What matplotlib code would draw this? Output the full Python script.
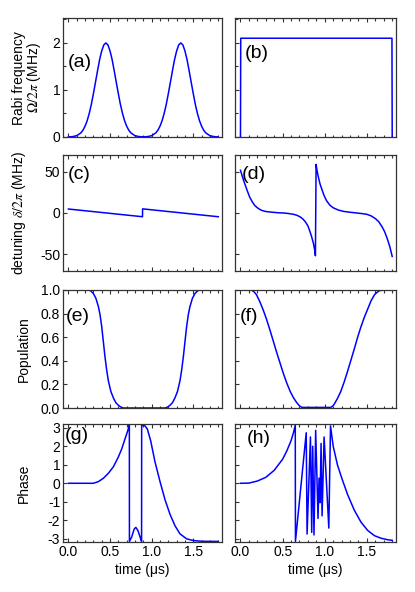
import matplotlib
matplotlib.use("Agg")
import matplotlib.pyplot as plt
from matplotlib.ticker import MultipleLocator

plt.rcParams['font.family'] = ['Liberation Sans', 'DejaVu Sans']
plt.rcParams['mathtext.fontset'] = 'stix'
plt.rcParams['axes.unicode_minus'] = False

# ---------------- data ----------------
# (a) two Gaussian pulses
t_a = [0.0, 0.05, 0.1, 0.15, 0.175, 0.2, 0.225, 0.25, 0.275, 0.3, 0.325, 0.35, 0.375, 0.4, 0.425,
       0.45, 0.475, 0.5, 0.525, 0.55, 0.575, 0.6, 0.625, 0.65, 0.675, 0.7, 0.725, 0.75, 0.8, 0.85,
       0.9, 0.95, 1.0, 1.05, 1.075, 1.1, 1.125, 1.15, 1.175, 1.2, 1.225, 1.25, 1.275, 1.3, 1.325,
       1.35, 1.375, 1.4, 1.425, 1.45, 1.475, 1.5, 1.525, 1.55, 1.575, 1.6, 1.625, 1.65, 1.7, 1.75, 1.8]
om_a = [0.002, 0.008, 0.028, 0.088, 0.145, 0.23, 0.345, 0.50, 0.69, 0.92, 1.163, 1.41, 1.646, 1.83, 1.957,
        2.0, 1.957, 1.83, 1.646, 1.41, 1.163, 0.92, 0.69, 0.50, 0.345, 0.23, 0.145, 0.088, 0.028, 0.008,
        0.004, 0.008, 0.028, 0.088, 0.145, 0.23, 0.345, 0.50, 0.69, 0.92, 1.163, 1.41, 1.646, 1.83, 1.957,
        2.0, 1.957, 1.83, 1.646, 1.41, 1.163, 0.92, 0.69, 0.50, 0.345, 0.23, 0.145, 0.088, 0.028, 0.008, 0.002]
# (b) rectangular pulse
t_b = [0.0, 0.003, 1.797, 1.8]
om_b = [0.0, 2.1, 2.1, 0.0]
# (c) linear chirps
t_c = [0.0, 0.89, 0.891, 1.8]
de_c = [4.8, -4.5, 5.0, -4.5]
# (d) tangent-like detuning
t_d = [0.0, 0.025, 0.052, 0.08, 0.11, 0.14, 0.17, 0.21, 0.25, 0.3, 0.39, 0.45, 0.51, 0.57, 0.63,
       0.67, 0.71, 0.74, 0.77, 0.80, 0.825, 0.845, 0.865, 0.879, 0.889,
       0.897, 0.91, 0.925, 0.944, 0.964, 0.99, 1.02, 1.06, 1.10, 1.16, 1.22, 1.30, 1.38, 1.44,
       1.5, 1.55, 1.6, 1.64, 1.68, 1.71, 1.74, 1.77, 1.80]
de_d = [51.6, 43, 35, 27, 19, 13.5, 9, 5.5, 3.2, 1.8, 0.8, 0.3, 0.0, -0.6, -1.6,
        -2.8, -4.8, -7.2, -10.7, -15.5, -22.6, -29, -36.5, -44, -51.6,
        58.7, 50, 42.9, 35, 29, 21.5, 15, 9.5, 6.3, 3.6, 2.0, 0.9, 0.0, -0.7,
        -1.6, -3.5, -6.7, -10.5, -16.7, -22.5, -30.6, -40, -52.4]
# (e) population, Gaussian pulses
t_e = [0.0, 0.24, 0.27, 0.3, 0.33, 0.36, 0.38, 0.4, 0.42, 0.44, 0.46, 0.48, 0.51, 0.54, 0.57, 0.6, 0.63, 0.66,
       1.16, 1.19, 1.22, 1.25, 1.28, 1.31, 1.34, 1.36, 1.38, 1.40, 1.42, 1.44, 1.46, 1.49, 1.52, 1.55, 1.58, 1.8]
p_e = [1.0, 1.0, 0.992, 0.97, 0.93, 0.86, 0.79, 0.69, 0.56, 0.43, 0.32, 0.23, 0.14, 0.086, 0.045, 0.023, 0.008, 0.0,
       0.0, 0.008, 0.023, 0.045, 0.086, 0.14, 0.23, 0.32, 0.43, 0.56, 0.69, 0.79, 0.86, 0.93, 0.97, 0.992, 1.0, 1.0]
# (f) population, rectangular pulse
t_f = [0.0, 0.13, 0.16, 0.19, 0.23, 0.27, 0.31, 0.35, 0.39, 0.43, 0.47, 0.51, 0.55, 0.59, 0.63, 0.67,
       0.70, 0.73, 1.07, 1.09, 1.11, 1.15, 1.19, 1.23, 1.27, 1.31, 1.35, 1.39, 1.43, 1.47, 1.51, 1.55,
       1.59, 1.62, 1.65, 1.71, 1.8]
p_f = [1.0, 1.0, 0.985, 0.96, 0.9, 0.83, 0.75, 0.66, 0.565, 0.47, 0.38, 0.29, 0.21, 0.14, 0.085, 0.043,
       0.018, 0.005, 0.005, 0.014, 0.03, 0.08, 0.14, 0.22, 0.31, 0.405, 0.5, 0.6, 0.69, 0.77, 0.84, 0.91,
       0.96, 0.98, 0.995, 1.0, 1.0]
# (g) phase, Gaussian pulses
t_g = [0.0, 0.3, 0.36, 0.42, 0.48, 0.54, 0.6, 0.64, 0.68, 0.70, 0.72, 0.732,
       0.733, 0.76, 0.79, 0.81, 0.836, 0.868, 0.879,
       0.88, 0.92, 0.948, 0.988, 1.04, 1.1, 1.16, 1.22, 1.28, 1.34, 1.42, 1.5, 1.6, 1.8]
ph_g = [0.0, 0.0, 0.09, 0.27, 0.54, 0.89, 1.42, 1.85, 2.4, 2.66, 2.95, 3.14,
        -3.14, -2.9, -2.47, -2.38, -2.56, -3.0, -3.14,
        3.14, 3.1, 2.93, 2.3, 1.16, 0.1, -0.88, -1.67, -2.29, -2.73, -3.0, -3.09, -3.13, -3.14]
# (h) phase, rectangular pulse
t_h = [0.0, 0.1, 0.2, 0.3, 0.4, 0.5, 0.55, 0.6, 0.63, 0.65,
       0.652, 0.78, 0.79, 0.83, 0.845, 0.857, 0.872, 0.892, 0.92, 0.932, 0.944, 0.956, 0.968,
       0.992, 1.048, 1.068, 1.10, 1.15, 1.2, 1.27, 1.35, 1.43, 1.51, 1.59, 1.67, 1.75, 1.8]
ph_h = [0.0, 0.01, 0.12, 0.32, 0.7, 1.3, 1.75, 2.3, 2.75, 3.14,
        -3.14, 2.73, -2.74, 2.5, -2.65, 2.0, -2.79, 2.86, -1.9, 0.28, -1.05, 2.15, -1.76,
        2.5, -2.42, 3.1, 2.0, 1.0, 0.3, -0.6, -1.45, -2.1, -2.55, -2.83, -2.97, -3.05, -3.08]

x_ticks = [0.0, 0.5, 1.0, 1.5]
x_ticklabels = ["0.0", "0.5", "1.0", "1.5"]
panel_labels = ["(a)", "(b)", "(c)", "(d)", "(e)", "(f)", "(g)", "(h)"]

# ---------------- figure ----------------
fig = plt.figure(figsize=(4.15, 5.92), dpi=100)
W, H = 415.0, 592.0
cols = [(63, 222), (235, 396)]
rows = [(18, 137), (155, 271), (290, 408), (424, 542)]

axes = []
for r, (yt, yb) in enumerate(rows):
    row = []
    for c, (xl, xr) in enumerate(cols):
        ax = fig.add_axes([xl / W, 1 - yb / H, (xr - xl) / W, (yb - yt) / H])
        row.append(ax)
    axes.append(row)

blue = '#0000ff'
lw = 1.1
data = [[(t_a, om_a), (t_b, om_b)],
        [(t_c, de_c), (t_d, de_d)],
        [(t_e, p_e), (t_f, p_f)],
        [(t_g, ph_g), (t_h, ph_h)]]

ylims = [(0, 2.53), (-70, 70), (0, 1.0), (-3.17, 3.2)]
yticks = [[0, 1, 2], [-50, 0, 50], [0.0, 0.2, 0.4, 0.6, 0.8, 1.0], [-3, -2, -1, 0, 1, 2, 3]]
ytlabels = [["0", "1", "2"], ["-50", "0", "50"],
            ["0.0", "0.2", "0.4", "0.6", "0.8", "1.0"],
            ["-3", "-2", "-1", "0", "1", "2", "3"]]
yminor = [0.5, None, None, None]

lab_pos = [[(0.03, 0.63), (0.06, 0.70)],
           [(0.03, 0.83), (0.045, 0.83)],
           [(0.02, 0.775), (0.03, 0.775)],
           [(0.01, 0.90), (0.07, 0.877)]]

k = 0
for r in range(4):
    for c in range(2):
        ax = axes[r][c]
        tt, yy = data[r][c]
        ax.plot(tt, yy, color=blue, lw=lw, solid_joinstyle='round')
        ax.set_xlim(-0.065, 1.845)
        ax.set_ylim(*ylims[r])
        ax.set_xticks(x_ticks)
        ax.xaxis.set_minor_locator(MultipleLocator(0.1))
        ax.set_yticks(yticks[r])
        if yminor[r]:
            ax.yaxis.set_minor_locator(MultipleLocator(yminor[r]))
        ax.tick_params(which='both', direction='in', top=True, right=False,
                       labelsize=10, width=0.8, color='#333333', pad=2)
        ax.tick_params(which='major', length=3)
        ax.tick_params(which='minor', length=1.8)
        for s in ax.spines.values():
            s.set_linewidth(0.9)
            s.set_color('#333333')
        if c == 0:
            ax.set_yticklabels(ytlabels[r])
        else:
            ax.set_yticklabels([])
        if r == 3:
            ax.set_xticklabels(x_ticklabels)
            ax.set_xlabel("time (μs)", fontsize=10, labelpad=3)
        else:
            ax.set_xticklabels([])
        lx, ly = lab_pos[r][c]
        ax.text(lx, ly, panel_labels[k], transform=ax.transAxes, fontsize=14,
                ha='left', va='center')
        k += 1

# y labels
fig.text(19 / W, 1 - 78 / H, "Rabi frequency", rotation=90, ha='center', va='center', fontsize=10)
fig.text(34 / W, 1 - 78 / H, r"$\Omega/2\pi$ (MHz)", rotation=90, ha='center', va='center', fontsize=10)
fig.text(19 / W, 1 - 213 / H, r"detuning $\delta/2\pi$ (MHz)", rotation=90, ha='center', va='center', fontsize=10)
fig.text(24 / W, 1 - 349 / H, "Population", rotation=90, ha='center', va='center', fontsize=10)
fig.text(24 / W, 1 - 483 / H, "Phase", rotation=90, ha='center', va='center', fontsize=10)

fig.savefig("out.png", dpi=100)
